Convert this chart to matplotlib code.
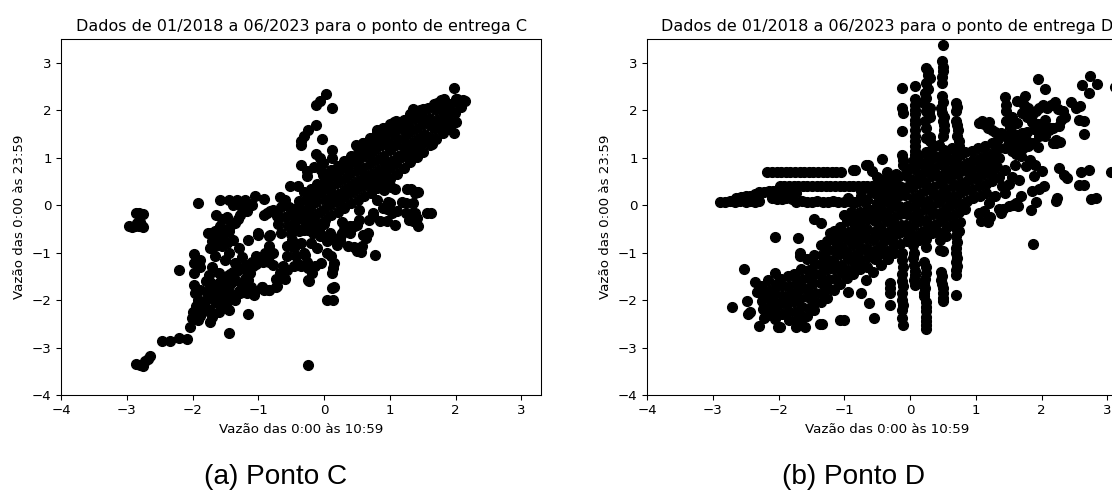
import numpy as np
import matplotlib
matplotlib.use("Agg")
import matplotlib.pyplot as plt

# ---------------------------------------------------------------- labels
title_c = "Dados de 01/2018 a 06/2023 para o ponto de entrega C"
title_d = "Dados de 01/2018 a 06/2023 para o ponto de entrega D"
xlabel = "Vazão das 0:00 às 10:59"
ylabel = "Vazão das 0:00 às 23:59"
caption_c = "(a) Ponto C"
caption_d = "(b) Ponto D"
ticks = [-4, -3, -2, -1, 0, 1, 2, 3]

# ---------------------------------------------------------------- ponto C
c_band = [
    (-0.42, -0.48), (-0.40, -0.28), (-0.43, -0.08), (-0.38, 0.08),
    (-0.31, -0.52), (-0.29, -0.33), (-0.32, -0.12), (-0.28, 0.09), (-0.30, 0.27),
    (-0.21, -0.42), (-0.19, -0.22), (-0.22, -0.03), (-0.18, 0.17), (-0.20, 0.35),
    (-0.11, -0.37), (-0.09, -0.16), (-0.12, 0.06), (-0.08, 0.26), (-0.10, 0.45),
    (0.01, -0.31), (-0.01, -0.11), (0.02, 0.10), (0.00, 0.31), (0.01, 0.49), (-0.02, 0.64),
    (0.11, -0.21), (0.09, 0.01), (0.12, 0.21), (0.10, 0.40), (0.08, 0.59), (0.11, 0.73),
    (0.21, -0.14), (0.19, 0.06), (0.22, 0.24), (0.20, 0.46), (0.18, 0.64), (0.21, 0.83),
    (0.31, -0.06), (0.29, 0.16), (0.32, 0.34), (0.30, 0.56), (0.28, 0.76), (0.31, 0.93),
    (0.41, 0.04), (0.39, 0.26), (0.42, 0.45), (0.40, 0.66), (0.38, 0.85), (0.41, 1.03),
    (0.51, 0.11), (0.49, 0.31), (0.52, 0.51), (0.50, 0.71), (0.48, 0.91), (0.51, 1.09), (0.49, 1.26),
    (0.61, 0.19), (0.59, 0.41), (0.62, 0.61), (0.60, 0.79), (0.58, 1.01), (0.61, 1.19), (0.60, 1.31),
    (0.71, 0.26), (0.69, 0.46), (0.72, 0.66), (0.70, 0.86), (0.68, 1.06), (0.71, 1.24), (0.70, 1.41),
    (0.81, 0.36), (0.79, 0.56), (0.82, 0.74), (0.80, 0.96), (0.78, 1.16), (0.81, 1.34), (0.80, 1.55),
    (0.91, 0.46), (0.89, 0.66), (0.92, 0.86), (0.90, 1.04), (0.88, 1.26), (0.91, 1.44), (0.90, 1.62),
    (1.01, 0.56), (0.99, 0.76), (1.02, 0.94), (1.00, 1.16), (0.98, 1.34), (1.01, 1.56), (1.00, 1.71),
    (1.11, 0.66), (1.09, 0.86), (1.12, 1.04), (1.10, 1.26), (1.08, 1.46), (1.11, 1.64), (1.10, 1.78),
    (1.21, 0.79), (1.19, 1.01), (1.22, 1.21), (1.20, 1.39), (1.18, 1.61), (1.21, 1.79),
    (1.31, 0.91), (1.29, 1.09), (1.32, 1.31), (1.30, 1.51), (1.28, 1.69), (1.31, 1.91),
    (1.41, 1.01), (1.39, 1.21), (1.42, 1.39), (1.40, 1.61), (1.38, 1.81), (1.41, 1.99),
    (1.51, 1.11), (1.49, 1.31), (1.52, 1.49), (1.50, 1.71), (1.48, 1.89), (1.51, 2.02),
    (1.61, 1.26), (1.59, 1.44), (1.62, 1.66), (1.60, 1.84), (1.58, 2.04),
    (1.71, 1.39), (1.69, 1.61), (1.72, 1.79), (1.70, 2.01), (1.68, 2.14),
    (1.81, 1.51), (1.79, 1.69), (1.82, 1.91), (1.80, 2.09), (1.78, 2.21),
    (1.91, 1.61), (1.89, 1.81), (1.92, 1.99), (1.90, 2.14),
    (2.01, 1.76), (1.99, 1.94), (2.02, 2.16), (2.00, 2.24),
    (2.09, 2.06), (2.11, 2.21),
]

c_band_edge = [
    (0.80, 1.58), (1.06, 1.75), (1.26, 1.80), (1.36, 2.03), (1.46, 2.01), (1.72, 2.16),
    (1.82, 2.24), (1.87, 2.08), (1.97, 2.46), (2.02, 2.24), (2.10, 2.19), (2.15, 2.19),
    (1.97, 1.52), (1.85, 1.66), (1.64, 1.28), (0.50, 1.25), (0.60, 1.31), (0.35, 0.85),
    (1.01, 0.40), (1.08, 0.33), (1.26, 0.33), (1.39, 0.26), (1.57, -0.17), (1.34, -0.17),
    (1.36, -0.34), (1.24, 0.05), (1.11, -0.13), (1.01, 0.05), (0.96, -0.09), (0.85, -0.34),
    (0.75, -0.20), (0.68, -0.31), (0.50, -0.41), (0.32, -0.45), (0.27, -0.59), (0.60, -0.62),
    (0.28, -0.35), (0.31, -0.52), (0.39, -0.59), (0.45, -0.45), (0.53, -0.31), (0.58, -0.87),
    (0.45, -0.89), (0.64, -0.70), (0.67, -0.59), (0.77, -1.05), (0.56, -0.98), (0.80, 0.11),
    (0.89, -0.07), (0.97, 0.07), (0.96, -0.33), (1.03, -0.17), (1.08, -0.42), (1.18, 0.07),
    (1.24, -0.17), (1.32, 0.33), (1.40, 0.28), (1.43, 0.28), (1.35, 0.04), (1.38, -0.17),
    (1.41, -0.28), (1.43, -0.45), (1.30, -0.31), (1.62, -0.16), (0.75, 0.39), (0.91, 0.32),
    (1.02, 0.39), (0.53, -0.10), (0.75, -0.17),
]

c_spike = [
    (0.03, 2.35), (-0.06, 2.19), (-0.12, 2.11), (0.12, 2.05), (-0.12, 1.68), (-0.25, 1.58),
    (-0.31, 1.45), (-0.35, 1.35), (-0.35, 1.26), (-0.03, 1.40), (0.12, 1.17), (-0.12, 1.07),
    (-0.06, 1.00), (-0.01, 0.89), (-0.35, 0.85), (-0.26, 0.71), (-0.26, 0.61), (-0.52, 0.40),
    (-0.39, 0.40), (0.12, 1.00), (-0.15, 0.80), (-0.05, 0.75),
]

c_mid = [
    (-1.00, -0.59), (-0.84, -0.65), (-0.87, -0.17), (-0.78, -0.10), (-0.72, -0.22), (-0.67, 0.18),
    (-0.59, 0.11), (-0.54, -0.03), (-0.70, -0.40), (-0.65, -0.59), (-0.56, -0.87), (-0.48, -0.73),
    (-0.46, -0.91), (-0.43, -1.08), (-0.40, -1.23), (-0.56, -1.08), (-0.62, -1.29), (-0.67, -1.44),
    (-0.73, -1.55), (-0.78, -1.01), (-0.84, -0.87), (-0.90, -1.01), (-0.97, -1.15), (-1.04, -1.08),
    (-1.08, -1.29), (-1.12, -1.42), (-1.16, -1.57), (-1.11, -1.72), (-1.06, -1.86), (-0.95, -1.72),
    (-0.84, -1.79), (-0.73, -1.72), (-0.65, -1.43), (-0.56, -1.36), (-0.45, -1.29),
    (-0.29, -1.05), (-0.26, -1.19), (-0.35, -1.29), (-0.24, -1.33), (-0.13, -1.29), (-0.05, -1.22),
    (-0.18, -1.43), (-0.23, -1.60), (0.04, -1.01), (0.10, -1.08), (0.15, -1.22), (0.13, -1.33),
    (0.12, -1.43), (0.15, -1.72), (0.14, -1.99), (0.05, -1.99), (0.12, -1.75),
    (-0.40, -0.03), (-0.32, -0.21), (-0.29, -0.35), (-0.24, -0.52), (-0.16, -0.59), (-0.07, -0.52),
    (-0.02, -0.66), (0.05, -0.75), (0.12, -0.70), (0.19, -0.84), (0.26, -0.63), (0.39, -0.45),
    (0.25, -0.73), (0.37, -0.87), (0.50, -0.97), (0.45, -0.45), (0.30, -0.41), (0.09, -0.59),
    (-0.06, -0.66), (-0.31, -1.01), (-0.25, -1.57), (-0.26, -1.29),
    (-0.50, -0.20), (-0.45, -0.40), (-0.38, -0.55), (-0.55, -0.45), (-0.60, -0.25), (-0.35, -0.80),
    (-0.50, -0.60), (-0.20, -0.80), (-0.10, -0.90), (0.00, -0.40), (-0.15, -0.40),
]

c_lowleft = [
    (-1.64, -0.20), (-1.73, -0.59), (-1.66, -0.55), (-1.58, -0.45), (-1.50, -0.53), (-1.43, -0.45),
    (-1.35, -0.38), (-1.28, -0.20), (-1.31, -0.30), (-1.17, -0.13), (-1.24, -0.05), (-1.55, -0.30),
    (-1.47, -0.25), (-1.58, 0.11), (-1.45, 0.11), (-1.33, 0.11), (-1.20, 0.11), (-1.05, 0.19),
    (-0.91, 0.12), (-1.38, 0.00), (-1.10, 0.00), (-0.92, -0.20), (-0.82, -0.13), (-0.65, -0.03),
    (-1.16, -0.73), (-1.00, -0.62), (-0.82, -0.62),
    (-1.77, -0.59), (-1.71, -0.76), (-1.74, -0.91), (-1.66, -0.87), (-1.66, -1.08), (-1.55, -0.87),
    (-1.52, -0.62), (-1.44, -0.55), (-1.39, -0.73), (-1.44, -1.01), (-1.36, -1.22), (-1.50, -1.15),
    (-1.60, -1.43), (-1.70, -1.30), (-1.60, -0.70), (-1.48, -0.80), (-1.30, -0.90), (-1.25, -1.10),
    (-1.97, -1.04), (-1.88, -1.15), (-1.97, -1.22), (-1.88, -1.31), (-1.97, -1.43), (-1.97, -1.68),
    (-1.96, -1.85), (-1.88, -1.78), (-1.91, -2.00), (-1.94, -2.13), (-1.99, -2.25), (-2.01, -2.38),
    (-2.04, -2.56), (-1.88, -2.34), (-1.73, -2.20), (-1.82, -2.22), (-1.92, -2.42),
    (-1.83, -2.08), (-1.78, -1.96), (-1.73, -1.85), (-1.68, -1.75), (-1.63, -1.68), (-1.58, -1.62),
    (-1.53, -1.55), (-1.48, -1.50), (-1.43, -1.45), (-1.38, -1.41), (-1.33, -1.38), (-1.28, -1.34),
    (-1.23, -1.31), (-1.17, -1.27), (-1.10, -1.20), (-1.03, -1.24), (-0.98, -1.17), (-0.93, -1.20),
    (-0.88, -1.13), (-0.83, -1.20), (-0.77, -1.27),
    (-1.80, -1.60), (-1.75, -1.48), (-1.72, -1.65), (-1.62, -1.90), (-1.55, -2.00), (-1.50, -1.80),
    (-1.45, -1.70), (-1.40, -1.62), (-1.35, -1.58), (-1.66, -2.05), (-1.57, -2.15), (-1.47, -2.05),
    (-1.40, -1.90), (-1.30, -1.80), (-1.20, -1.55), (-1.25, -1.68), (-1.15, -1.45), (-1.78, -1.80),
    (-1.68, -1.95), (-1.60, -1.78), (-1.52, -1.92),
    (-1.28, -1.85), (-1.17, -1.85), (-1.07, -1.89), (-0.95, -1.72), (-0.92, -1.78), (-0.84, -1.79),
    (-0.72, -1.71), (-0.60, -1.55), (-1.35, -2.00), (-1.45, -2.20), (-1.60, -2.25), (-1.70, -2.35),
]

c_outliers = [
    (-2.97, -0.45), (-2.92, -0.46), (-2.87, -0.45), (-2.82, -0.44), (-2.77, -0.43), (-2.75, -0.46),
    (-2.86, -0.17), (-2.81, -0.16), (-2.76, -0.18), (-2.80, -0.36), (-2.85, -0.38),
    (-2.86, -3.34), (-2.80, -3.36), (-2.75, -3.39), (-2.72, -3.29), (-2.68, -3.24), (-2.64, -3.17),
    (-2.47, -2.87), (-2.34, -2.87), (-2.21, -2.79), (-2.08, -2.83),
    (-1.45, -2.70), (-1.16, -2.30), (-1.74, -2.47), (-0.24, -3.37), (-2.21, -1.36), (-1.92, 0.04),
]

# ---------------------------------------------------------------- ponto D
d_row_low = [
    (-2.89, 0.07), (-2.81, 0.07), (-2.74, 0.08), (-2.66, 0.07), (-2.58, 0.08), (-2.50, 0.07),
    (-2.43, 0.08), (-2.36, 0.07), (-2.29, 0.08), (-1.73, 0.07), (-1.65, 0.08), (-1.57, 0.07),
    (-1.49, 0.07), (-1.41, 0.08), (-1.33, 0.07), (-1.25, 0.07), (-1.17, 0.08), (-1.09, 0.07),
    (-1.01, 0.07), (-0.93, 0.08), (-0.85, 0.07), (-0.77, 0.08), (-0.69, 0.07),
    (-2.64, 0.15), (-2.57, 0.18), (-2.50, 0.20), (-2.43, 0.20), (-2.36, 0.24), (-2.29, 0.27),
    (-2.22, 0.28), (-2.15, 0.29), (-2.08, 0.29), (-2.01, 0.28), (-1.94, 0.28), (-1.87, 0.27),
    (-1.80, 0.27), (-1.73, 0.26), (-2.10, 0.15), (-2.02, 0.13), (-1.95, 0.12), (-1.88, 0.14),
    (-1.80, 0.12),
]

d_row_mid = [
    (-1.98, 0.40), (-1.91, 0.41), (-1.84, 0.40), (-1.77, 0.41), (-1.70, 0.40), (-1.63, 0.41),
    (-1.56, 0.40), (-1.49, 0.41), (-1.42, 0.40), (-1.35, 0.41), (-1.28, 0.40), (-1.21, 0.41),
    (-1.14, 0.40), (-1.07, 0.41), (-1.00, 0.40), (-0.93, 0.41), (-0.86, 0.40), (-0.79, 0.41),
    (-0.72, 0.40), (-0.65, 0.41), (-0.58, 0.40), (-0.51, 0.41), (-0.44, 0.40), (-0.37, 0.41),
    (-0.30, 0.40), (-0.23, 0.41), (-0.16, 0.40),
]

d_row_high = [
    (-2.17, 0.69), (-2.10, 0.70), (-2.03, 0.69), (-1.96, 0.70), (-1.89, 0.69), (-1.82, 0.70),
    (-1.75, 0.69), (-1.68, 0.70), (-1.61, 0.69), (-1.54, 0.70), (-1.47, 0.69), (-1.40, 0.70),
    (-1.33, 0.69), (-1.26, 0.70), (-1.19, 0.69), (-1.12, 0.70), (-1.05, 0.69),
]

d_cols_up = [
    (-0.12, 2.47), (-0.12, 2.05), (-0.11, 1.95), (-0.12, 1.56), (-0.12, 1.06), (-0.11, 0.96),
    (0.07, 2.51), (0.08, 2.23), (0.07, 2.12), (0.07, 2.01), (0.08, 1.91), (0.07, 1.80),
    (0.07, 1.70), (0.08, 1.59), (0.07, 1.45), (0.07, 1.35), (0.08, 1.24), (0.07, 1.14), (0.07, 1.06),
    (0.25, 2.88), (0.28, 2.82), (0.27, 2.74), (0.30, 2.68), (0.24, 2.58), (0.27, 2.45),
    (0.23, 2.36), (0.24, 2.25), (0.22, 2.15), (0.30, 2.04), (0.24, 1.98), (0.29, 1.94),
    (0.30, 1.85), (0.23, 1.77), (0.25, 1.63), (0.24, 1.42), (0.30, 1.44), (0.30, 1.36),
    (0.28, 1.05), (0.30, 0.97),
    (0.50, 3.37), (0.48, 3.03), (0.50, 2.92), (0.50, 2.82), (0.49, 2.70), (0.49, 2.58),
    (0.48, 2.29), (0.50, 2.17), (0.47, 2.05), (0.49, 1.94), (0.51, 1.85), (0.50, 1.77),
    (0.52, 1.68), (0.52, 1.59), (0.50, 1.45), (0.52, 1.17),
    (0.70, 2.16), (0.71, 2.07), (0.70, 1.98), (0.70, 1.77), (0.72, 1.68), (0.73, 1.59),
    (0.72, 1.45), (0.74, 1.35), (0.73, 1.05),
]

d_cols_down = [
    (-0.12, -1.00), (-0.12, -1.15), (-0.11, -1.30), (-0.12, -1.45), (-0.12, -1.60), (-0.11, -1.71),
    (-0.12, -1.85), (-0.12, -1.99), (-0.11, -2.10), (-0.12, -2.21), (-0.12, -2.38), (-0.11, -2.52),
    (0.05, -0.85), (0.06, -1.00), (0.05, -1.12), (0.06, -1.26), (0.07, -1.38), (0.07, -1.47),
    (0.06, -1.58), (0.07, -1.68),
    (0.22, -1.19), (0.24, -1.30), (0.24, -1.43), (0.23, -1.55), (0.22, -1.64), (0.23, -1.75),
    (0.22, -1.85), (0.22, -1.92), (0.24, -2.05), (0.24, -2.15), (0.24, -2.24), (0.25, -2.35),
    (0.24, -2.45), (0.24, -2.52), (0.25, -2.60),
    (0.47, -1.40), (0.48, -1.50), (0.47, -1.57), (0.49, -1.66), (0.50, -1.75), (0.50, -1.85),
    (0.50, -1.96), (0.50, -2.03), (0.45, -0.94), (0.50, -0.97),
    (0.71, -0.52), (0.70, -0.65), (0.71, -0.78), (0.70, -0.90), (0.70, -1.01), (0.71, -1.12),
    (0.70, -1.19), (0.71, -1.28), (0.70, -1.36), (0.70, -1.47), (0.70, -1.89),
    (-0.31, -1.64), (-0.30, -1.74), (-0.31, -1.86), (-0.31, -2.10),
]

d_low = [
    (-2.35, -1.62), (-2.33, -1.84),
    (-2.26, -1.70), (-2.24, -1.86), (-2.25, -2.01), (-2.23, -2.19),
    (-2.16, -1.58), (-2.14, -1.79), (-2.15, -1.96), (-2.13, -2.14), (-2.16, -2.31),
    (-2.06, -1.44), (-2.04, -1.66), (-2.05, -1.86), (-2.07, -2.04), (-2.05, -2.26), (-2.06, -2.40),
    (-1.96, -1.56), (-1.94, -1.71), (-1.95, -1.91), (-1.97, -2.09), (-1.95, -2.29),
    (-1.86, -1.49), (-1.84, -1.71), (-1.85, -1.89), (-1.87, -2.06), (-1.85, -2.24), (-1.84, -2.41),
    (-1.76, -1.46), (-1.74, -1.64), (-1.75, -1.86), (-1.77, -2.04), (-1.75, -2.26), (-1.73, -2.44),
    (-1.66, -1.34), (-1.64, -1.56), (-1.65, -1.74), (-1.67, -1.96), (-1.65, -2.14), (-1.64, -2.36),
    (-1.68, -2.50),
    (-1.56, -1.14), (-1.54, -1.36), (-1.55, -1.54), (-1.57, -1.76), (-1.55, -1.94), (-1.54, -2.16),
    (-1.56, -2.34),
    (-1.46, -1.06), (-1.44, -1.24), (-1.45, -1.46), (-1.47, -1.64), (-1.45, -1.86), (-1.44, -2.04),
    (-1.46, -2.21),
    (-1.36, -0.84), (-1.34, -1.06), (-1.35, -1.24), (-1.37, -1.46), (-1.35, -1.64), (-1.34, -1.86),
    (-1.36, -2.04),
    (-1.26, -0.76), (-1.24, -0.94), (-1.25, -1.16), (-1.27, -1.34), (-1.25, -1.56), (-1.24, -1.74),
    (-1.26, -1.96),
    (-1.16, -0.54), (-1.14, -0.76), (-1.15, -0.94), (-1.17, -1.16), (-1.15, -1.34), (-1.14, -1.56),
    (-1.16, -1.79),
    (-1.06, -0.46), (-1.04, -0.64), (-1.05, -0.86), (-1.07, -1.04), (-1.05, -1.26), (-1.04, -1.44),
    (-1.06, -1.66),
    (-0.96, -0.34), (-0.94, -0.56), (-0.95, -0.74), (-0.97, -0.96), (-0.95, -1.14), (-0.94, -1.36),
    (-0.96, -1.54), (-0.95, -1.84),
    (-0.86, -0.26), (-0.84, -0.44), (-0.85, -0.66), (-0.87, -0.84), (-0.85, -1.06), (-0.84, -1.24),
    (-0.86, -1.46),
    (-0.76, -0.14), (-0.74, -0.36), (-0.75, -0.54), (-0.77, -0.76), (-0.75, -0.94), (-0.74, -1.16),
    (-0.76, -1.34),
    (-0.66, -0.11), (-0.64, -0.29), (-0.65, -0.51), (-0.67, -0.69), (-0.65, -0.91), (-0.64, -1.09),
    (-0.66, -1.31), (-0.67, -1.58),
    (-0.56, -0.16), (-0.54, -0.34), (-0.55, -0.56), (-0.57, -0.74), (-0.55, -0.96), (-0.54, -1.14),
    (-0.56, -1.41),
]

d_core = [
    (-0.46, 0.34), (-0.44, 0.16), (-0.45, -0.06), (-0.47, -0.24), (-0.45, -0.46), (-0.44, -0.64),
    (-0.46, -0.86), (-0.45, -1.04), (-0.44, -1.26),
    (-0.36, 0.46), (-0.34, 0.24), (-0.35, 0.06), (-0.37, -0.16), (-0.35, -0.34), (-0.34, -0.56),
    (-0.36, -0.74), (-0.35, -0.96), (-0.34, -1.14),
    (-0.26, 0.54), (-0.24, 0.36), (-0.25, 0.14), (-0.27, -0.04), (-0.25, -0.26), (-0.24, -0.44),
    (-0.26, -0.66), (-0.25, -0.84), (-0.24, -1.01),
    (-0.16, 0.61), (-0.14, 0.39), (-0.15, 0.21), (-0.17, -0.01), (-0.15, -0.19), (-0.14, -0.41),
    (-0.16, -0.59), (-0.15, -0.81),
    (-0.06, 0.79), (-0.04, 0.61), (-0.05, 0.39), (-0.07, 0.21), (-0.05, -0.01), (-0.04, -0.19),
    (-0.06, -0.41), (-0.05, -0.59), (-0.04, -0.76),
    (0.04, 0.94), (0.06, 0.76), (0.05, 0.54), (0.03, 0.36), (0.05, 0.14), (0.06, -0.04),
    (0.04, -0.26), (0.05, -0.44), (0.06, -0.66),
    (0.14, 1.04), (0.16, 0.86), (0.15, 0.64), (0.13, 0.46), (0.15, 0.24), (0.16, 0.06),
    (0.14, -0.16), (0.15, -0.34), (0.16, -0.56), (0.14, -0.74),
    (0.24, 1.11), (0.26, 0.89), (0.25, 0.71), (0.23, 0.49), (0.25, 0.31), (0.26, 0.09),
    (0.24, -0.09), (0.25, -0.31), (0.26, -0.49), (0.24, -0.71), (0.25, -0.89),
    (0.34, 1.19), (0.36, 1.01), (0.35, 0.79), (0.33, 0.61), (0.35, 0.39), (0.36, 0.21),
    (0.34, -0.01), (0.35, -0.19), (0.36, -0.41), (0.34, -0.59),
    (0.44, 1.26), (0.46, 1.04), (0.45, 0.86), (0.43, 0.64), (0.45, 0.46), (0.46, 0.24),
    (0.44, 0.06), (0.45, -0.16), (0.46, -0.34), (0.44, -0.56), (0.45, -0.74),
    (0.54, 1.14), (0.56, 0.96), (0.55, 0.74), (0.53, 0.56), (0.55, 0.34), (0.56, 0.16),
    (0.54, -0.06), (0.55, -0.24), (0.56, -0.46), (0.54, -0.64),
    (0.64, 1.21), (0.66, 0.99), (0.65, 0.81), (0.63, 0.59), (0.65, 0.41), (0.66, 0.19),
    (0.64, 0.01), (0.65, -0.21), (0.66, -0.39),
    (0.74, 1.24), (0.76, 1.06), (0.75, 0.84), (0.73, 0.66), (0.75, 0.44), (0.76, 0.26),
    (0.74, 0.04), (0.75, -0.14), (0.76, -0.36), (0.74, -0.54),
    (0.84, 1.11), (0.86, 0.89), (0.85, 0.71), (0.83, 0.49), (0.85, 0.31), (0.86, 0.09), (0.84, -0.09),
    (0.94, 1.14), (0.96, 0.96), (0.95, 0.74), (0.93, 0.56), (0.95, 0.34), (0.96, 0.16),
    (1.04, 1.21), (1.06, 0.99), (1.05, 0.81), (1.03, 0.59), (1.05, 0.41), (1.06, 0.19),
    (1.14, 1.24), (1.16, 1.06), (1.15, 0.84), (1.13, 0.66), (1.15, 0.44), (1.16, 0.26),
    (1.24, 1.31), (1.26, 1.09), (1.25, 0.91), (1.23, 0.69), (1.25, 0.51),
    (1.34, 1.39), (1.36, 1.21), (1.35, 0.99), (1.33, 0.81), (1.35, 0.59),
]

d_upper = [
    (1.05, 1.73), (1.12, 1.70), (1.18, 1.62), (1.25, 1.58), (1.30, 1.55), (1.38, 1.52),
    (1.44, 1.46), (1.50, 1.40), (1.10, 1.78), (1.20, 1.75),
    (1.44, 2.28), (1.46, 2.12), (1.46, 1.98), (1.46, 1.77), (1.52, 1.62), (1.50, 1.30),
    (1.45, 1.20), (1.55, 1.15),
    (1.63, 2.19), (1.75, 2.30), (1.74, 2.12), (1.80, 2.05), (1.70, 1.95), (1.78, 1.85),
    (1.85, 1.90), (1.92, 1.98), (1.96, 2.05), (2.02, 2.12), (2.08, 2.05), (2.15, 2.10),
    (2.20, 2.18), (2.25, 2.02), (2.32, 1.98), (2.35, 1.85), (2.30, 1.80), (2.45, 2.18),
    (2.52, 2.05), (2.58, 2.08),
    (1.95, 2.65), (2.05, 2.45), (2.62, 2.54), (2.74, 2.72), (2.84, 2.55), (2.72, 2.36), (3.12, 2.48),
    (2.65, 1.78), (2.65, 1.50), (2.57, 1.79),
    (1.60, 1.35), (1.65, 1.25), (1.72, 1.20), (1.80, 1.25), (1.88, 1.30), (1.95, 1.22),
    (2.05, 1.45), (2.12, 1.58), (2.18, 1.62), (2.22, 1.30), (2.28, 1.32), (1.58, 1.50),
    (1.68, 1.45), (1.78, 1.55), (1.88, 1.60), (1.95, 1.70), (1.85, 1.75), (2.05, 1.80),
    (1.62, 1.72), (1.55, 1.85),
    (1.69, 1.03), (1.61, 1.07), (1.76, 1.38), (1.71, 1.52), (1.84, 1.31), (2.06, 1.66),
    (2.01, 1.59), (1.96, 1.45), (2.14, 1.63), (2.22, 1.38), (2.17, 1.31), (2.27, 1.66),
    (1.76, 0.82), (1.82, 0.95), (1.90, 0.85),
]

d_right = [
    (2.72, 0.75), (2.60, 0.69), (2.57, 0.43), (2.65, 0.42), (2.27, 0.78), (2.34, 0.64),
    (2.38, 0.58), (2.24, 0.15), (2.22, 0.08), (2.01, 0.71), (1.89, 0.61), (1.86, 0.29),
    (1.91, 0.06), (1.84, -0.11), (1.69, 0.19), (1.61, 0.05), (1.51, -0.02), (1.41, -0.09),
    (1.38, -0.17), (1.96, 0.33), (2.04, 0.40), (1.66, 0.54), (1.87, -0.81), (2.76, 0.12),
    (3.05, 0.69), (2.83, 0.15), (1.05, -0.17), (1.08, -0.34), (1.36, -0.09), (1.56, 0.01),
    (1.64, -0.02), (1.22, -0.25), (1.18, -0.35), (1.12, -0.12), (1.45, 0.25), (1.50, 0.45),
    (1.30, 0.20), (1.20, 0.05), (1.40, 0.40), (1.55, 0.60), (1.45, 0.75), (1.60, 0.85),
]

d_left_extra = [
    (-0.87, 0.75), (-0.67, 0.85), (-0.58, 0.71), (-0.42, 0.97), (-0.35, 0.69), (-0.83, 0.74),
    (-0.64, 0.85), (-0.50, 0.60), (-0.30, 0.58), (-0.22, 0.66),
    (-0.95, 0.15), (-0.85, 0.05), (-0.75, 0.20), (-0.65, 0.10), (-0.55, 0.25), (-0.50, 0.05),
    (-0.45, 0.20), (-0.60, -0.10), (-0.70, -0.20), (-0.80, -0.35), (-0.90, -0.15), (-1.00, -0.20),
    (-0.60, 0.30), (-0.75, 0.30), (-1.12, -0.59), (-1.22, -0.59), (-0.40, 0.55), (-0.10, 0.85),
]

d_isolated = [
    (-2.52, -1.34), (-2.70, -2.15), (-2.48, -2.03), (-2.47, -2.30), (-2.43, -2.26), (-2.30, -2.55),
    (-2.22, -2.38), (-1.97, -2.57), (-2.06, -0.67), (-1.70, -0.69), (-1.68, -1.00), (-1.67, -1.08),
    (-1.46, -0.30), (-1.35, -0.38), (-1.34, -2.51), (-1.06, -2.42), (-1.00, -2.42), (-0.55, -2.38),
    (-0.63, -2.07), (-0.75, -1.86), (-1.74, -2.56), (-1.60, -2.56), (-1.37, -2.50), (-2.01, -2.56),
]

groups_c = [c_band, c_band_edge, c_spike, c_mid, c_lowleft, c_outliers]
groups_d = [d_row_low, d_row_mid, d_row_high, d_cols_up, d_cols_down, d_low, d_core,
            d_upper, d_right, d_left_extra, d_isolated]


def stack(groups):
    arr = np.array([p for g in groups for p in g], dtype=float)
    return arr[:, 0], arr[:, 1]


DPI = 96
fig = plt.figure(figsize=(1112 / DPI, 493 / DPI), dpi=DPI)
W, H = 1112, 493


def panel(left_px, groups, title):
    ax = fig.add_axes([left_px / W, (H - 395) / H, 480 / W, 356 / H])
    x, y = stack(groups)
    ax.scatter(x, y, s=54, color="black", linewidths=1.0)
    ax.set_xlim(-4, 3.3)
    ax.set_ylim(-4, 3.5)
    ax.set_xticks(ticks)
    ax.set_yticks(ticks)
    ax.set_title(title)
    ax.set_xlabel(xlabel)
    ax.set_ylabel(ylabel)
    return ax


panel(61, groups_c, title_c)
panel(647, groups_d, title_d)

fig.text(276 / W, 1 - 477 / H, caption_c, ha="center", va="center",
         fontsize=21, family="Liberation Sans")
fig.text(853 / W, 1 - 477 / H, caption_d, ha="center", va="center",
         fontsize=21, family="Liberation Sans")

fig.savefig("out.png", dpi=DPI)
